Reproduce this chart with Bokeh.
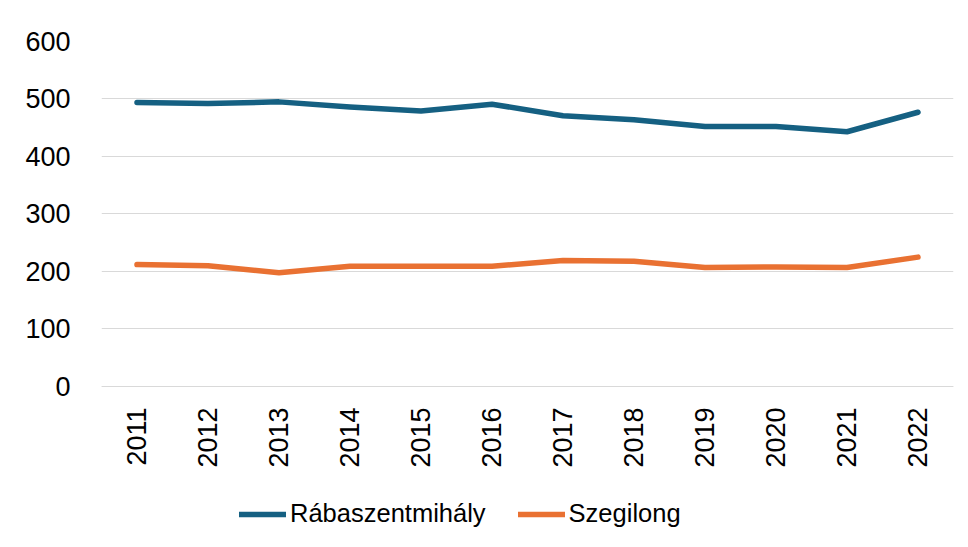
import math
from bokeh.plotting import figure
from bokeh.models import FactorRange, Range1d, FixedTicker, Legend, LegendItem, ColumnDataSource
from bokeh.embed import file_html
from bokeh.resources import INLINE

years = ["2011", "2012", "2013", "2014", "2015", "2016", "2017", "2018", "2019", "2020", "2021", "2022"]
rabaszentmihaly = [494, 492, 495, 486, 479, 491, 471, 464, 452, 452, 443, 477]
szegilong = [212, 210, 198, 209, 209, 209, 219, 218, 207, 208, 207, 225]
y_ticks = [0, 100, 200, 300, 400, 500, 600]

FONT = "Liberation Sans"

p = figure(
    x_range=FactorRange(factors=years),
    y_range=Range1d(-266.1, 600),
    width=960, height=539,
    min_border_left=101, min_border_top=41, min_border_right=7, min_border_bottom=0,
    output_backend="svg", toolbar_location=None,
)
p.outline_line_color = None
p.background_fill_color = "white"
p.border_fill_color = "white"

src = ColumnDataSource(dict(x=years, a=rabaszentmihaly, b=szegilong))
r1 = p.line("x", "a", source=src, line_color="#156082", line_width=5.5,
            line_cap="round", line_join="round")
r2 = p.line("x", "b", source=src, line_color="#E97132", line_width=5.5,
            line_cap="round", line_join="round")

p.yaxis.ticker = FixedTicker(ticks=y_ticks)
p.yaxis.axis_line_color = None
p.yaxis.major_tick_line_color = None
p.yaxis.minor_tick_line_color = None
p.yaxis.major_label_text_font = FONT
p.yaxis.major_label_text_font_size = "27px"
p.yaxis.major_label_text_color = "#000000"
p.yaxis.major_label_standoff = 25

p.xaxis.fixed_location = 0
p.xaxis.axis_line_color = "#d9d9d9"
p.xaxis.major_tick_line_color = None
p.xaxis.minor_tick_line_color = None
p.xaxis.major_label_orientation = math.pi / 2
p.xaxis.major_label_text_font = FONT
p.xaxis.major_label_text_font_size = "27px"
p.xaxis.major_label_text_color = "#000000"
p.xaxis.major_label_standoff = 15
p.xgrid.grid_line_color = None
p.ygrid.grid_line_color = "#d9d9d9"
p.ygrid.grid_line_width = 1

legend = Legend(
    items=[LegendItem(label="Rábaszentmihály", renderers=[r1]),
           LegendItem(label="Szegilong", renderers=[r2])],
    orientation="horizontal",
    location=(138, 11),
    glyph_width=47, glyph_height=26,
    label_standoff=4, spacing=32, padding=0, margin=0,
    label_text_font=FONT, label_text_font_size="25.5px", label_text_color="#000000",
    border_line_color=None, background_fill_alpha=0,
)
p.add_layout(legend, "center")

open("out.html", "w").write(file_html(p, INLINE))
